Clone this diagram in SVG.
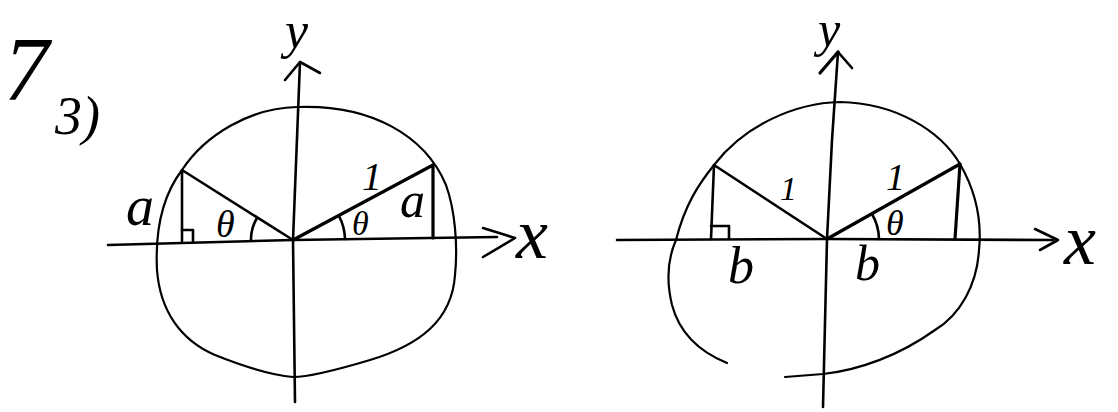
<svg xmlns="http://www.w3.org/2000/svg" width="1118" height="412" viewBox="0 0 1118 412">
<style>
.ln{fill:none;stroke:#000;stroke-width:2.6;stroke-linecap:round;stroke-linejoin:round}
.cr{fill:none;stroke:#000;stroke-width:2.2;stroke-linecap:round;stroke-linejoin:round}
.th{fill:none;stroke:#000;stroke-width:3.2;stroke-linecap:round;stroke-linejoin:round}
.t{font-family:"Liberation Serif",serif;font-style:italic;fill:#000}
</style>
<rect width="1118" height="412" fill="#fff"/>
<g id="title">
<text class="t" x="4" y="100" font-size="90">7</text>
<text class="t" x="55" y="134" font-size="54">3)</text>
</g>
<g id="left-diagram">
<g id="left-circle">
<path class="cr" d="M297,107 C370,104 425,135 446,185 C455,210 458,245 455,275 C452,320 420,345 370,360 C330,372 305,377 293,377 C270,375 245,367 215,355 C180,340 160,310 157,270 C155,230 163,195 182,170 C205,135 250,108 297,107 Z"/>
</g>
<g id="left-axes">
<path class="ln" d="M108,245 L293,240 L497,237"/>
<path class="ln" d="M483,228 L515,238 L483,257"/>
<path class="ln" d="M300,62 L293,240 L295,402"/>
<path class="ln" d="M285,80 L300,62 L320,73"/>
<text class="t" x="516" y="258" font-size="72">x</text>
<text class="t" x="285" y="48" font-size="52">y</text>
</g>
<g id="left-triangles">
<path class="th" d="M293,240 L433,165 L433,238"/>
<path class="ln" d="M293,240 L182,170 L182,241"/>
<path class="ln" d="M182,230 L193,230 L193,241"/>
<path class="ln" d="M251,240 A42,42 0 0 1 257,218"/>
<path class="ln" d="M345,239 A52,52 0 0 0 339,216"/>
<text class="t" x="126" y="225" font-size="56">a</text>
<text class="t" x="216" y="237" font-size="38">θ</text>
<text class="t" x="352" y="235" font-size="34">θ</text>
<text class="t" x="400" y="217" font-size="50">a</text>
<text class="t" x="362" y="190" font-size="40">1</text>
</g>
</g>
<g id="right-diagram">
<g id="right-circle">
<path class="cr" d="M727,363 C700,352 680,335 672,305 C666,280 668,258 676,240 C685,205 698,185 714,165 C745,125 795,103 840,102 C895,103 940,130 960,164 C975,190 982,220 979,250 C977,285 960,315 935,330 C900,355 860,370 823,374 L785,377"/>
</g>
<g id="right-axes">
<path class="ln" d="M617,240 L827,239 L1053,240"/>
<path class="ln" d="M1035,229 L1058,240 L1040,250"/>
<path class="ln" d="M838,52 L832,140 L827,239 L823,407"/>
<path class="ln" d="M852,68 L838,52"/>
<path class="th" d="M820,73 L838,52"/>
<text class="t" x="1064" y="264" font-size="72">x</text>
<text class="t" x="818" y="46" font-size="50">y</text>
</g>
<g id="right-triangles">
<path class="th" d="M827,239 L960,164 L955,239"/>
<path class="ln" d="M827,239 L714,165 L711,239"/>
<path class="ln" d="M711,226 L729,226 L729,239"/>
<path class="ln" d="M879,239 A52,52 0 0 0 872,214"/>
<text class="t" x="886" y="235" font-size="36">θ</text>
<text class="t" x="780" y="200" font-size="34">1</text>
<text class="t" x="886" y="190" font-size="38">1</text>
<text class="t" x="728" y="283" font-size="52">b</text>
<text class="t" x="855" y="280" font-size="50">b</text>
</g>
</g>
</svg>
